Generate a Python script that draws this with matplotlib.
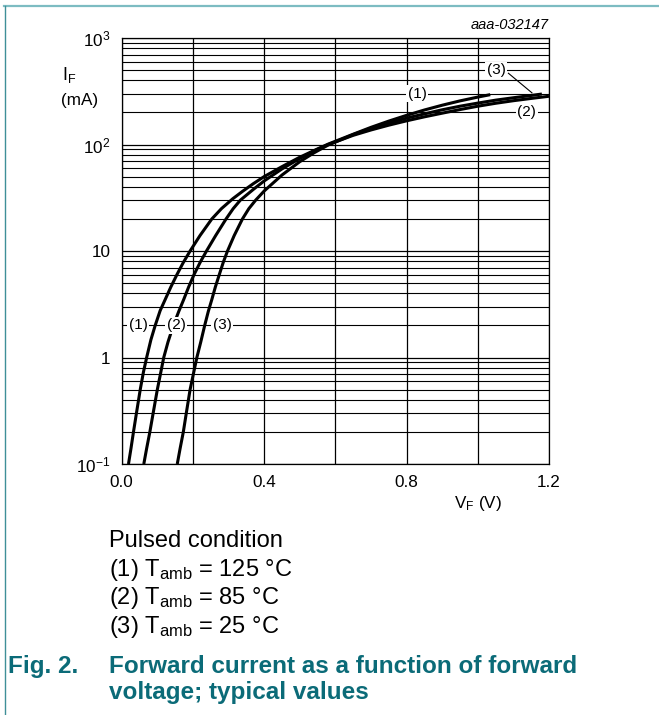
import matplotlib
matplotlib.use("Agg")
import matplotlib.pyplot as plt
from matplotlib.lines import Line2D

plt.rcParams['font.family'] = ['Liberation Sans', 'DejaVu Sans']
plt.rcParams['mathtext.fontset'] = 'custom'
plt.rcParams['mathtext.rm'] = 'Liberation Sans'
plt.rcParams['mathtext.it'] = 'Liberation Sans:italic'
plt.rcParams['mathtext.bf'] = 'Liberation Sans:bold'

# forward voltage (V) / forward current (mA)
# (1) Tamb = 125 C
vf_125 = [0.019, 0.026, 0.033, 0.042, 0.052, 0.061, 0.070, 0.082, 0.094, 0.108,
          0.122, 0.138, 0.155, 0.172, 0.192, 0.220, 0.253, 0.280, 0.312, 0.340,
          0.370, 0.400, 0.450, 0.500, 0.550, 0.580, 0.650, 0.700, 0.750, 0.800,
          0.850, 0.900, 0.950, 1.000, 1.035]
if_125 = [0.10, 0.14, 0.20, 0.31, 0.50, 0.73, 1.0, 1.47, 2.0, 2.76,
          3.5, 4.6, 6.0, 7.7, 10, 14, 20, 25, 31, 36.5,
          43, 50, 62, 76, 91, 101, 125, 145, 166, 188,
          211, 234, 257, 279, 294]

# (2) Tamb = 85 C
vf_85 = [0.062, 0.070, 0.079, 0.089, 0.100, 0.118, 0.130, 0.145, 0.160, 0.174,
         0.188, 0.203, 0.220, 0.238, 0.264, 0.293, 0.313, 0.333, 0.370, 0.400,
         0.450, 0.500, 0.540, 0.580, 0.650, 0.700, 0.750, 0.800, 0.850, 0.900,
         0.950, 1.000, 1.050, 1.100, 1.150, 1.200]
if_85 = [0.10, 0.14, 0.20, 0.31, 0.50, 1.0, 1.4, 2.0, 2.7, 3.5,
         4.6, 6.0, 7.8, 10, 14, 20, 25, 30, 38, 45.5,
         59, 74, 87, 100, 122, 137, 152, 167, 182, 197,
         213, 229, 244, 258, 271, 284]

# (3) Tamb = 25 C
vf_25 = [0.156, 0.164, 0.173, 0.182, 0.192, 0.211, 0.222, 0.233, 0.243, 0.253,
         0.263, 0.274, 0.285, 0.297, 0.316, 0.339, 0.357, 0.376, 0.400, 0.450,
         0.500, 0.540, 0.580, 0.650, 0.700, 0.750, 0.800, 0.850, 0.900, 0.950,
         1.000, 1.050, 1.100, 1.150, 1.180]
if_25 = [0.10, 0.14, 0.20, 0.31, 0.50, 1.0, 1.4, 2.0, 2.7, 3.5,
         4.6, 6.0, 7.8, 10, 14, 20, 25, 30, 36.6, 51.7,
         69, 83.6, 99, 124, 142, 159, 177, 194, 212, 229,
         245, 261, 275, 289, 298]

x_grid = [0.0, 0.2, 0.4, 0.6, 0.8, 1.0, 1.2]
x_labels = ['0.0', '', '0.4', '', '0.8', '', '1.2']
y_ticks = [0.1, 1, 10, 100, 1000]
y_labels = ['10$^{-1}$', '1', '10', '10$^{2}$', '10$^{3}$']

teal = '#0b6b78'

fig = plt.figure(figsize=(6.59, 7.15), dpi=100)
ax = fig.add_axes([0.1847, 0.351, 0.6484, 0.5958])

ax.set_yscale('log')
ax.set_xlim(0, 1.2)
ax.set_ylim(0.1, 1000)

ax.set_xticks(x_grid)
ax.set_xticklabels(x_labels, fontsize=12.3)
ax.set_yticks(y_ticks)
ax.set_yticklabels(y_labels, fontsize=12.3)
ax.yaxis.set_minor_locator(matplotlib.ticker.LogLocator(base=10, subs=range(2, 10)))
ax.yaxis.set_minor_formatter(matplotlib.ticker.NullFormatter())
ax.tick_params(which='both', length=0)
ax.tick_params(axis='y', pad=8)
ax.tick_params(axis='x', pad=8)
ax.grid(True, which='major', color='black', lw=0.9)
ax.grid(True, which='minor', axis='y', color='black', lw=0.8)
ax.set_axisbelow(True)
for s in ax.spines.values():
    s.set_linewidth(0.9)

for v, i in [(vf_125, if_125), (vf_85, if_85), (vf_25, if_25)]:
    ax.plot(v, i, color='black', lw=2.2, solid_capstyle='butt',
            solid_joinstyle='round', zorder=3)

box = dict(facecolor='white', edgecolor='none', pad=1.0)
lab_kw = dict(fontsize=11, ha='center', va='center', bbox=box, zorder=5)
ax.text(0.83, 300, '(1)', **lab_kw)
ax.text(1.051, 500, '(3)', **lab_kw)
ax.text(1.138, 200, '(2)', **lab_kw)
ax.text(0.046, 2, '(1)', **lab_kw)
ax.text(0.153, 2, '(2)', **lab_kw)
ax.text(0.282, 2, '(3)', **lab_kw)
ax.plot([1.086, 1.152], [467, 306], color='black', lw=0.8, zorder=4)

fig.text(0.833, 0.965, 'aaa-032147', fontsize=10.5, style='italic', ha='right', va='center')
fig.text(0.105, 0.895, r'$\mathrm{I_F}$', fontsize=13, ha='center', va='center')
fig.text(0.121, 0.860, '(mA)', fontsize=12.3, ha='center', va='center')
fig.text(0.726, 0.296, r'$\mathrm{V_F}$ (V)', fontsize=12.3, ha='center', va='center')

legend_lines = ['Pulsed condition',
                r'(1) T$_{\mathrm{amb}}$ = 125 °C',
                r'(2) T$_{\mathrm{amb}}$ = 85 °C',
                r'(3) T$_{\mathrm{amb}}$ = 25 °C']
for k, t in enumerate(legend_lines):
    fig.text(0.166, 0.243 - k * 0.0398, t, fontsize=17, ha='left', va='center')

fig.text(0.012, 0.068, 'Fig. 2.', fontsize=17.5, fontweight='bold', color=teal, va='center')
fig.text(0.166, 0.068, 'Forward current as a function of forward', fontsize=17.5,
         fontweight='bold', color=teal, va='center')
fig.text(0.166, 0.032, 'voltage; typical values', fontsize=17.5,
         fontweight='bold', color=teal, va='center')

# page frame
fig.add_artist(Line2D([0.006, 1.0], [0.9916, 0.9916], color='#7dbcc2', lw=1.6))
fig.add_artist(Line2D([0.007, 0.007], [0.9916, 0.0], color='#3f8f98', lw=1.0))

fig.savefig('out.png', dpi=100)
